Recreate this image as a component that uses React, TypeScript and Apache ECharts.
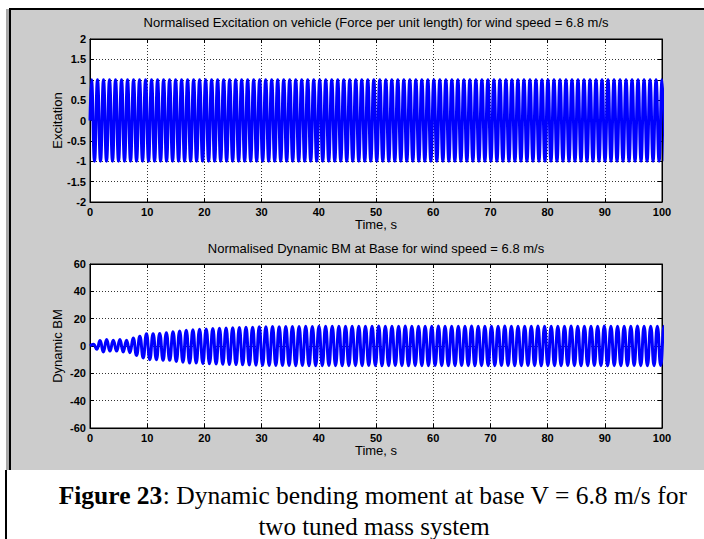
import React, { useEffect, useRef } from "react";
import * as echarts from "echarts";

// ---- data ----
const timeTicksMin = 0;
const timeTicksMax = 100;
const timeTickStep = 10;
const excitationMin = -2;
const excitationMax = 2;
const excitationStep = 0.5;
const bmMin = -60;
const bmMax = 60;
const bmStep = 20;

// Excitation: one crest and one trough per cycle (normalised, +/-1)
const excitationStart = 0.0; // s
const excitationPeriod = 1.05;
const excitationCrests = [
  1, 1, 1, 1, 1, 1, 1, 1, 1, 1, 1, 1, 1, 1, 1, 1, 1, 1, 1, 1,
  1, 1, 1, 1, 1, 1, 1, 1, 1, 1, 1, 1, 1, 1, 1, 1, 1, 1, 1, 1,
  1, 1, 1, 1, 1, 1, 1, 1, 1, 1, 1, 1, 1, 1, 1, 1, 1, 1, 1, 1,
  1, 1, 1, 1, 1, 1, 1, 1, 1, 1, 1, 1, 1, 1, 1, 1, 1, 1, 1, 1,
  1, 1, 1, 1, 1, 1, 1, 1, 1, 1, 1, 1, 1, 1, 1, 1,
];
const excitationTroughs = [
  -1, -1, -1, -1, -1, -1, -1, -1, -1, -1, -1, -1, -1, -1, -1, -1, -1, -1, -1, -1,
  -1, -1, -1, -1, -1, -1, -1, -1, -1, -1, -1, -1, -1, -1, -1, -1, -1, -1, -1, -1,
  -1, -1, -1, -1, -1, -1, -1, -1, -1, -1, -1, -1, -1, -1, -1, -1, -1, -1, -1, -1,
  -1, -1, -1, -1, -1, -1, -1, -1, -1, -1, -1, -1, -1, -1, -1, -1, -1, -1, -1, -1,
  -1, -1, -1, -1, -1, -1, -1, -1, -1, -1, -1, -1, -1, -1, -1, -1,
];

// Dynamic BM: crest / trough of each cycle (growing to a steady amplitude)
const bmStart = 0.3; // s
const bmPeriod = 1.16; // s
const bmCrests = [
  1.2, 4.0, 4.7, 4.2, 4.7, 4.2, 5.9, 7.2, 9.0, 9.0,
  9.2, 9.7, 10.5, 11.0, 11.5, 11.8, 12.3, 12.5, 12.8, 13.0,
  13.2, 13.4, 13.5, 13.7, 13.8, 14.0, 14.0, 14.2, 14.1, 14.3,
  14.2, 14.3, 14.4, 14.3, 14.4, 14.5, 14.4, 14.5, 14.4, 14.5,
  14.5, 14.4, 14.5, 14.6, 14.5, 14.4, 14.5, 14.6, 14.5, 14.5,
  14.4, 14.5, 14.6, 14.5, 14.5, 14.4, 14.5, 14.6, 14.5, 14.5,
  14.4, 14.5, 14.6, 14.5, 14.5, 14.4, 14.5, 14.6, 14.5, 14.5,
  14.4, 14.5, 14.6, 14.5, 14.5, 14.4, 14.5, 14.6, 14.5, 14.5,
  14.4, 14.5, 14.6, 14.5, 14.5, 14.4, 14.5,
];
const bmTroughs = [
  -2.4, -4.4, -3.7, -3.7, -4.4, -4.9, -6.9, -8.7, -10.0, -10.0,
  -10.5, -10.5, -11.3, -11.8, -12.5, -12.5, -12.8, -13.0, -13.2, -13.4,
  -13.5, -13.6, -13.8, -13.9, -14.0, -14.1, -14.2, -14.2, -14.3, -14.3,
  -14.4, -14.3, -14.4, -14.5, -14.4, -14.3, -14.4, -14.5, -14.4, -14.4,
  -14.4, -14.3, -14.4, -14.5, -14.4, -14.3, -14.4, -14.5, -14.4, -14.4,
  -14.4, -14.3, -14.4, -14.5, -14.4, -14.3, -14.4, -14.5, -14.4, -14.4,
  -14.4, -14.3, -14.4, -14.5, -14.4, -14.3, -14.4, -14.5, -14.4, -14.4,
  -14.4, -14.3, -14.4, -14.5, -14.4, -14.3, -14.4, -14.5, -14.4, -14.4,
  -14.4, -14.3, -14.4, -14.5, -14.4, -14.3, -14.4,
];

const topTitle = "Normalised Excitation on vehicle (Force per unit length) for wind speed = 6.8 m/s";
const bottomTitle = "Normalised Dynamic BM at Base for wind speed = 6.8 m/s";
const xName = "Time, s";
const topYName = "Excitation";
const bottomYName = "Dynamic BM";
const captionBold = "Figure 23";
const captionLine1 = ": Dynamic bending moment at base V = 6.8 m/s for";
const captionLine2 = "two tuned mass system";

function buildSeries(start: number, period: number, crests: number[], troughs: number[]) {
  const pts: number[][] = [[0, 0]];
  for (let k = 0; k < crests.length; k++) {
    pts.push([start + period * (k + 0.25), crests[k]]);
    if (k < troughs.length) pts.push([start + period * (k + 0.75), troughs[k]]);
  }
  return pts;
}

const SANS = "'Liberation Sans', Arial, sans-serif";
const SERIF = "'Liberation Serif', 'Times New Roman', serif";

function makeAxes(gridIndex: number, yMin: number, yMax: number, yStep: number, yName: string) {
  const labelStyle = { color: "#000", fontFamily: SANS, fontSize: 11, fontWeight: "bold" as const };
  const dotted = { show: true, lineStyle: { color: "#333", type: [1, 2] as any, width: 1 } };
  const xAxes = [
    {
      type: "value", gridIndex, min: timeTicksMin, max: timeTicksMax, interval: timeTickStep,
      position: "bottom",
      axisLine: { show: true, onZero: false, lineStyle: { color: "#000", width: 1 } },
      axisTick: { show: true, inside: true, length: 4, lineStyle: { color: "#000" } },
      axisLabel: { ...labelStyle, margin: 4 },
      splitLine: dotted,
      name: xName, nameLocation: "middle", nameGap: 16, nameMoveOverlap: false,
      nameTextStyle: { color: "#000", fontFamily: SANS, fontSize: 13 },
    },
    {
      type: "value", gridIndex, min: timeTicksMin, max: timeTicksMax, interval: timeTickStep,
      position: "top",
      axisLine: { show: true, onZero: false, lineStyle: { color: "#000", width: 1 } },
      axisTick: { show: true, inside: true, length: 4, lineStyle: { color: "#000" } },
      axisLabel: { show: false },
      splitLine: { show: false },
    },
  ];
  const yAxes = [
    {
      type: "value", gridIndex, min: yMin, max: yMax, interval: yStep,
      position: "left",
      axisLine: { show: true, onZero: false, lineStyle: { color: "#000", width: 1 } },
      axisTick: { show: true, inside: true, length: 4, lineStyle: { color: "#000" } },
      axisLabel: { ...labelStyle, margin: 4 },
      splitLine: dotted,
      name: yName, nameLocation: "middle", nameGap: 26, nameMoveOverlap: false,
      nameTextStyle: { color: "#000", fontFamily: SANS, fontSize: 13 },
    },
    {
      type: "value", gridIndex, min: yMin, max: yMax, interval: yStep,
      position: "right",
      axisLine: { show: true, onZero: false, lineStyle: { color: "#000", width: 1 } },
      axisTick: { show: true, inside: true, length: 4, lineStyle: { color: "#000" } },
      axisLabel: { show: false },
      splitLine: { show: false },
    },
  ];
  return { xAxes, yAxes };
}

export default function App() {
  const ref = useRef<HTMLDivElement>(null);
  useEffect(() => {
    if (!ref.current) return;
    const chart = echarts.init(ref.current, undefined, { renderer: "svg" });
    const top = makeAxes(0, excitationMin, excitationMax, excitationStep, topYName);
    const bot = makeAxes(1, bmMin, bmMax, bmStep, bottomYName);
    const option: any = {
      animation: false,
      backgroundColor: "#ffffff",
      grid: [
        { left: 90, top: 39, width: 572, height: 163, show: true, backgroundColor: "#ffffff", borderColor: "#000", borderWidth: 1 },
        { left: 90, top: 264, width: 572, height: 164, show: true, backgroundColor: "#ffffff", borderColor: "#000", borderWidth: 1 },
      ],
      xAxis: [...top.xAxes, ...bot.xAxes],
      yAxis: [...top.yAxes, ...bot.yAxes],
      series: [
        {
          type: "line", xAxisIndex: 0, yAxisIndex: 0, showSymbol: false, smooth: true, clip: true,
          lineStyle: { color: "#0000ff", width: 3 },
          data: buildSeries(excitationStart, excitationPeriod, excitationCrests, excitationTroughs),
          z: 3,
        },
        {
          type: "line", xAxisIndex: 2, yAxisIndex: 2, showSymbol: false, smooth: true, clip: true,
          lineStyle: { color: "#0000ff", width: 3 },
          data: buildSeries(bmStart, bmPeriod, bmCrests, bmTroughs),
          z: 3,
        },
      ],
      graphic: [
        { type: "rect", z: -10, silent: true, shape: { x: 6, y: 9, width: 704, height: 461 }, style: { fill: "#a8a8a8" } },
        { type: "rect", z: -9, silent: true, shape: { x: 9, y: 8, width: 704, height: 462 }, style: { fill: "#000000" } },
        { type: "rect", z: -8, silent: true, shape: { x: 11, y: 10, width: 704, height: 460 }, style: { fill: "#cccccc" } },
        { type: "rect", z: -8, silent: true, shape: { x: 5, y: 470, width: 2, height: 69 }, style: { fill: "#000000" } },
        {
          type: "text", x: 376, y: 22, z: 5,
          style: { text: topTitle, fill: "#000", font: `13px ${SANS}`, textAlign: "center", textVerticalAlign: "middle" },
        },
        {
          type: "text", x: 376, y: 248, z: 5,
          style: { text: bottomTitle, fill: "#000", font: `13px ${SANS}`, textAlign: "center", textVerticalAlign: "middle" },
        },
        {
          type: "text", x: 373, y: 495, z: 5,
          style: {
            text: `{b|${captionBold}}{n|${captionLine1}}`,
            textAlign: "center", textVerticalAlign: "middle",
            rich: {
              b: { fontFamily: SERIF, fontSize: 25.5, fontWeight: "bold", fill: "#000" },
              n: { fontFamily: SERIF, fontSize: 25.5, fill: "#000" },
            },
          },
        },
        {
          type: "text", x: 374, y: 526, z: 5,
          style: { text: captionLine2, fill: "#000", font: `25px ${SERIF}`, textAlign: "center", textVerticalAlign: "middle" },
        },
      ],
    };
    chart.setOption(option);
    return () => chart.dispose();
  }, []);
  return (
    <div style={{ position: "fixed", left: 0, top: 0, width: 704, height: 539 }}>
      <div ref={ref} style={{ width: 704, height: 539 }} />
    </div>
  );
}
